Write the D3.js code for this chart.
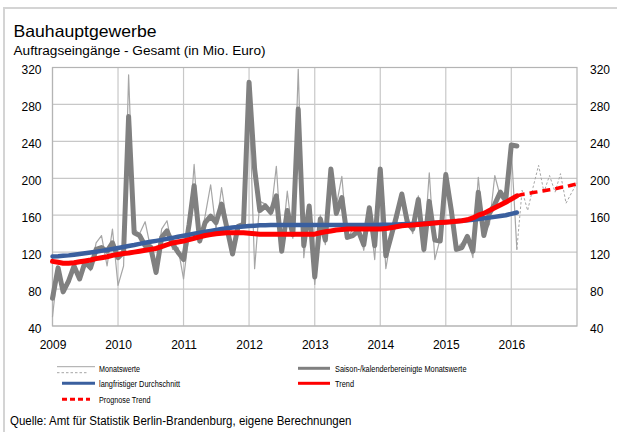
<!DOCTYPE html>
<html>
<head>
<meta charset="utf-8">
<script src="https://cdn.jsdelivr.net/npm/d3@7"></script>
<style>
  body { margin: 0; background: #fff; }
  svg { display: block; font-family: "Liberation Sans", Arial, sans-serif; }
</style>
</head>
<body>
<div id="chart"></div>
<script>
// Monatliche Werte ab Januar 2009
const startYear = 2009;
const yearLabels = ["2009", "2010", "2011", "2012", "2013", "2014", "2015", "2016"];
const yTicks = [40, 80, 120, 160, 200, 240, 280, 320];

// Monatswerte (Jan 2009 - Feb 2016)
const monatswerte = [
    50, 105, 80, 92, 109, 93, 112, 100, 130, 138, 105, 145,
    84, 105, 312, 145, 140, 153, 125, 100, 145, 154, 123, 125,
    91, 140, 215, 130, 159, 193, 145, 190, 150, 118, 145, 152,
    290, 102, 175, 172, 160, 213, 125, 186, 135, 318, 114, 168,
    85, 160, 128, 200, 170, 202, 134, 145, 150, 122, 165, 112,
    205, 102, 135, 150, 175, 160, 140, 181, 120, 206, 112, 135,
    195, 160, 124, 130, 138, 114, 201, 140, 150, 203, 180, 172,
    232, 123
];
// Prognose der Monatswerte (Feb 2016 - Jan 2017)
const prognoseMonatswerte = [123, 187, 165, 190, 214, 185, 203, 185, 205, 173, 184, 195];

// Saison-/kalenderbereinigte Monatswerte
const saisonbereinigt = [
    70, 103, 77, 89, 105, 91, 109, 103, 123, 125, 121, 130,
    114, 120, 267, 141, 138, 127, 126, 98, 136, 143, 129, 120,
    112, 150, 192, 132, 152, 159, 152, 172, 145, 118, 148, 150,
    304, 210, 165, 170, 163, 181, 121, 165, 139, 275, 127, 170,
    93, 156, 133, 210, 162, 179, 136, 138, 143, 128, 168, 127,
    210, 116, 136, 159, 183, 152, 145, 177, 123, 175, 133, 132,
    204, 165, 123, 125, 137, 121, 185, 138, 162, 172, 185, 176,
    236, 235
];

// langfristiger Durchschnitt
const durchschnitt = [
    115.3, 115.6, 116, 116.5, 117.2, 118, 118.8, 119.6, 120.5, 121.4, 122.4, 123.4,
    124.5, 125.6, 126.7, 127.8, 129, 130.2, 131.2, 132.2, 133.3, 134.4, 135.5, 136.7,
    137.8, 138.9, 140, 141, 142, 143, 144, 145, 145.8, 146.6, 147.2, 147.8,
    148.3, 148.7, 149, 149.2, 149.4, 149.5, 149.5, 149.5, 149.5, 149.5, 149.5, 149.5,
    149.5, 149.5, 149.5, 149.5, 149.5, 149.5, 149.5, 149.5, 149.5, 149.5, 149.5, 149.5,
    149.6, 149.7, 149.8, 150, 150.2, 150.4, 150.6, 150.8, 151.1, 151.4, 151.8, 152.2,
    152.6, 153, 153.5, 154, 154.6, 155.2, 155.9, 156.6, 157.4, 158.2, 159.1, 160,
    161.5, 163
];

// Trend
const trend = [
    110, 109, 108, 108, 108.5, 109.5, 110.5, 111.5, 113, 114, 115, 116.5,
    117.5, 118.5, 119, 120, 121, 122, 123, 124, 126, 128, 130, 131,
    132, 133.5, 135, 136.5, 138, 139, 140, 140.5, 141, 141, 141, 141,
    140.5, 140, 139.5, 139.5, 139.5, 139.5, 139.5, 139.5, 139.5, 139.5, 139.5, 139.5,
    139.5, 141, 142, 143, 144, 144.5, 145, 145, 145, 145, 145, 145,
    145, 145.5, 146.5, 147.5, 148.5, 149, 149.5, 150, 150.5, 151, 151.5, 152,
    152.5, 153, 153.5, 154, 155, 157, 160, 162, 165, 168, 171, 174,
    177.5, 181
];
// Prognose Trend (Feb 2016 - Jan 2017)
const prognoseTrend = [181, 182.5, 183.5, 184.5, 185.5, 186.5, 187.5, 188.5, 190, 191, 192.5, 194];

const width = 617;
const height = 432;
const plot = { left: 52.5, right: 577, top: 67.5, bottom: 326 };

const svg = d3.select("#chart").append("svg")
    .attr("width", width)
    .attr("height", height);

svg.append("rect")
    .attr("width", width).attr("height", height)
    .attr("fill", "#fff");

// Rahmen
svg.append("rect")
    .attr("x", 4).attr("y", 8)
    .attr("width", 700).attr("height", 600)
    .attr("fill", "none")
    .attr("stroke", "#d4d4d4")
    .attr("stroke-width", 2);

let x = d3.scaleTime()
    .domain([new Date(startYear, 0, 1), new Date(startYear + 8, 0, 1)])
    .range([plot.left, plot.right]);
let y = d3.scaleLinear()
    .domain([40, 320])
    .range([plot.bottom, plot.top]);

function monthDate(offset, i) {
    return new Date(startYear, offset + i, 1);
}

// Gitternetz
let grid = svg.append("g");
grid.selectAll(".hgrid")
    .data(yTicks)
    .enter().append("line")
    .attr("x1", plot.left).attr("x2", plot.right)
    .attr("y1", d => y(d)).attr("y2", d => y(d))
    .attr("stroke", "#c8c8c8")
    .attr("stroke-width", 1.2);
grid.selectAll(".vgrid")
    .data(yearLabels)
    .enter().append("line")
    .attr("x1", d => x(new Date(+d, 0, 1))).attr("x2", d => x(new Date(+d, 0, 1)))
    .attr("y1", plot.top).attr("y2", plot.bottom)
    .attr("stroke", "#c8c8c8")
    .attr("stroke-width", 1.2);
grid.append("rect")
    .attr("x", plot.left).attr("y", plot.top)
    .attr("width", plot.right - plot.left)
    .attr("height", plot.bottom - plot.top)
    .attr("fill", "none")
    .attr("stroke", "#b4b4b4")
    .attr("stroke-width", 1.2);

// Achsen
function styleAxis(g) {
    g.select(".domain").remove();
    g.selectAll("line").remove();
    g.selectAll("text")
        .attr("font-size", "12px")
        .attr("font-family", "Liberation Sans, Arial, sans-serif")
        .attr("fill", "#000");
}
svg.append("g")
    .attr("transform", "translate(41.5,2.5)")
    .call(d3.axisLeft(y).tickValues(yTicks).tickSize(0).tickPadding(0))
    .call(styleAxis);
svg.append("g")
    .attr("transform", "translate(590,2.5)")
    .call(d3.axisRight(y).tickValues(yTicks).tickSize(0).tickPadding(0))
    .call(styleAxis);
svg.append("g")
    .attr("transform", "translate(0,340.5)")
    .call(d3.axisBottom(x)
        .tickValues(yearLabels.map(d => new Date(+d, 0, 1)))
        .tickFormat(d3.timeFormat("%Y"))
        .tickSize(0).tickPadding(0))
    .call(styleAxis);

// Linien
let line = d3.line()
    .x(d => x(d.date))
    .y(d => y(d.value));

function series(values, offset) {
    return values.map((v, i) => ({ date: monthDate(offset, i), value: v }));
}

let lines = svg.append("g")
    .attr("fill", "none")
    .attr("stroke-linejoin", "round")
    .attr("stroke-linecap", "round");

lines.append("path")
    .datum(series(prognoseMonatswerte, 85))
    .attr("d", line)
    .attr("stroke", "#a6a6a6")
    .attr("stroke-width", 1)
    .attr("stroke-linecap", "butt")
    .attr("stroke-dasharray", "2.5,2");
lines.append("path")
    .datum(series(monatswerte, 0))
    .attr("d", line)
    .attr("stroke", "#a6a6a6")
    .attr("stroke-width", 1.2);
lines.append("path")
    .datum(series(saisonbereinigt, 0))
    .attr("d", line)
    .attr("stroke", "#808080")
    .attr("stroke-width", 5);
lines.append("path")
    .datum(series(durchschnitt, 0))
    .attr("d", line)
    .attr("stroke", "#3a5f9e")
    .attr("stroke-width", 4.5);
lines.append("path")
    .datum(series(trend, 0))
    .attr("d", line)
    .attr("stroke", "#ff0000")
    .attr("stroke-width", 5);
lines.append("path")
    .datum(series(prognoseTrend, 85))
    .attr("d", line)
    .attr("stroke", "#ff0000")
    .attr("stroke-width", 3.5)
    .attr("stroke-linecap", "butt")
    .attr("stroke-dasharray", "8,5");

// Titel
svg.append("text")
    .attr("x", 13.5).attr("y", 36.5)
    .attr("font-size", "16.5px")
    .attr("textLength", 143)
    .attr("lengthAdjust", "spacingAndGlyphs")
    .text("Bauhauptgewerbe");
svg.append("text")
    .attr("x", 13.5).attr("y", 55)
    .attr("font-size", "12.5px")
    .attr("textLength", 252)
    .attr("lengthAdjust", "spacingAndGlyphs")
    .text("Auftragseingänge - Gesamt (in Mio. Euro)");

// Legende
let legend = svg.append("g").attr("font-size", "8.5px");
function legendLine(x1, x2, yy, stroke, w, dash) {
    legend.append("line")
        .attr("x1", x1).attr("x2", x2)
        .attr("y1", yy).attr("y2", yy)
        .attr("stroke", stroke)
        .attr("stroke-width", w)
        .attr("stroke-dasharray", dash || null);
}
function legendText(tx, ty, label, len) {
    legend.append("text")
        .attr("x", tx).attr("y", ty)
        .attr("textLength", len)
        .attr("lengthAdjust", "spacingAndGlyphs")
        .text(label);
}
legendLine(57, 95, 366.7, "#a6a6a6", 1);
legendLine(57, 87, 372.7, "#a6a6a6", 1, "2.5,2");
legendText(99, 371.5, "Monatswerte", 41);
legendLine(298, 330, 368.3, "#808080", 3);
legendText(335, 371.5, "Saison-/kalenderbereinigte Monatswerte", 131.5);
legendLine(62, 95, 383.3, "#3a5f9e", 3);
legendText(99, 386.5, "langfristiger Durchschnitt", 81);
legendLine(298, 330, 383.3, "#ff0000", 3);
legendText(335, 386.5, "Trend", 19);
legendLine(62, 90, 399.3, "#ff0000", 3, "5,3");
legendText(99, 402.5, "Prognose Trend", 51.5);

// Quelle
svg.append("text")
    .attr("x", 10).attr("y", 425)
    .attr("font-size", "12.5px")
    .attr("textLength", 341.5)
    .attr("lengthAdjust", "spacingAndGlyphs")
    .text("Quelle: Amt für Statistik Berlin-Brandenburg, eigene Berechnungen");
</script>
</body>
</html>
